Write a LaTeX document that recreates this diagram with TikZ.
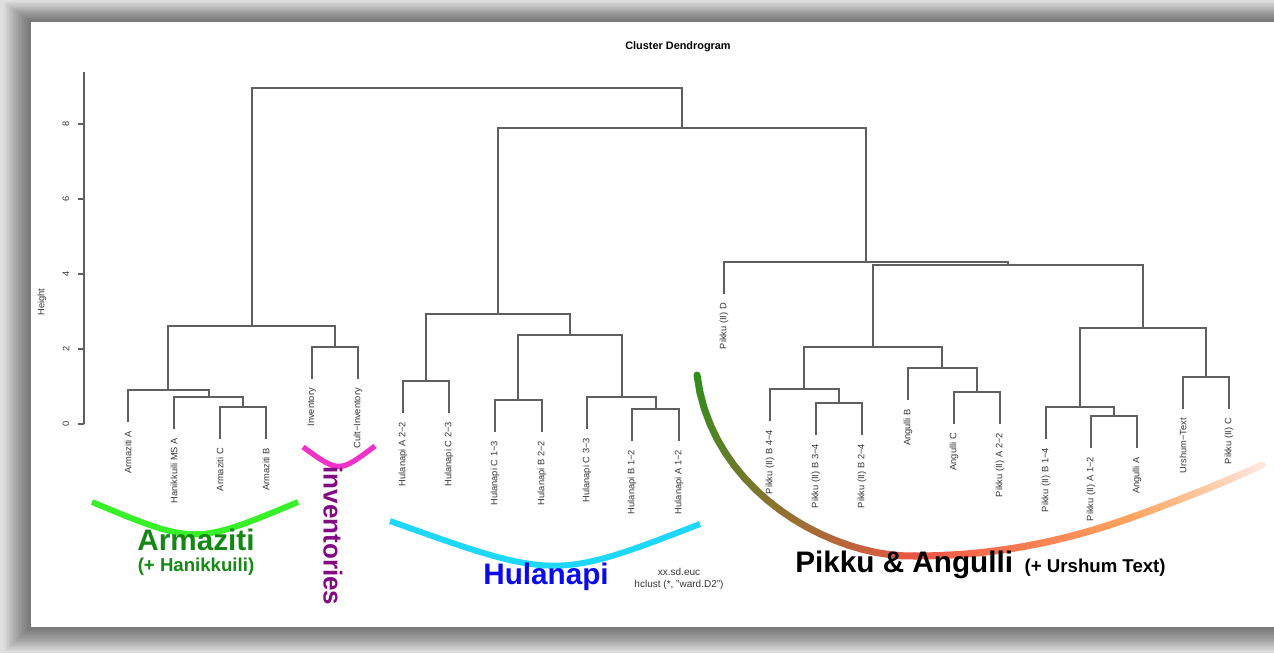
\documentclass[tikz,border=0pt]{standalone}
\usepackage{fontspec}
\setmainfont{Liberation Sans}
\usepackage{tikz}
\usetikzlibrary{positioning}
\definecolor{bggray}{RGB}{222,222,222}
\definecolor{linkgray}{RGB}{95,95,95}
\definecolor{labelgray}{RGB}{55,55,55}
\definecolor{armline}{RGB}{55,240,40}
\definecolor{armtext}{RGB}{20,135,20}
\definecolor{invline}{RGB}{240,50,200}
\definecolor{invtext}{RGB}{130,10,130}
\definecolor{hulline}{RGB}{30,215,250}
\definecolor{hultext}{RGB}{10,10,240}
\definecolor{pkgreen}{RGB}{50,140,30}
\definecolor{pkred}{RGB}{240,85,70}
\definecolor{pkorange}{RGB}{255,165,95}
\definecolor{pkpale}{RGB}{255,232,225}

\begin{document}
\begin{tikzpicture}[x=0.02cm, y=-0.02cm,
    link/.style = {draw=linkgray, line width=0.75pt},
    leaf/.style = {rotate=90, anchor=east, inner sep=0pt, text=labelgray, font=\fontsize{5.3}{6}\selectfont},
    ticklab/.style = {rotate=90, inner sep=0pt, text=labelgray, font=\fontsize{5.3}{6}\selectfont},
    grouplab/.style = {inner sep=0pt, font=\bfseries\fontsize{16.9}{20}\selectfont},
    sublab/.style = {inner sep=0pt, font=\bfseries\fontsize{10.6}{12}\selectfont},
    bracket/.style = {line width=3.4pt},
    pkarc/.style = {line width=4pt, line cap=round}]
    \useasboundingbox (0,0) rectangle (1274,653);
    \clip (0,0) rectangle (1274,653);
    \fill[bggray] (0,0) rectangle (1274,653);
    \foreach \k in {1,...,18}
        \fill[black, opacity=0.032] (31-1.5*\k,22-1.1*\k) rectangle (1300,627+1.35*\k);
    \fill[white] (31,22) rectangle (1300,627);

    \node[inner sep=0pt, font=\bfseries\fontsize{6.2}{7}\selectfont] (title) at (678,47) {Cluster Dendrogram};

    \draw[link] (84,72) -- (84,424);
    \draw[link] (78,424) -- (84,424);
    \draw[link] (78,349) -- (84,349);
    \draw[link] (78,274) -- (84,274);
    \draw[link] (78,199) -- (84,199);
    \draw[link] (78,124) -- (84,124);
    \node[ticklab] (h0) at (66,424) {0};
    \node[ticklab] (h2) at (66,349) {2};
    \node[ticklab] (h4) at (66,274) {4};
    \node[ticklab] (h6) at (66,199) {6};
    \node[ticklab] (h8) at (66,124) {8};
    \node[ticklab] (height) at (42,302) {Height};

    \coordinate (t1) at (128,422);
    \coordinate (t2) at (174,429);
    \coordinate (t3) at (220,439);
    \coordinate (t4) at (266,439);
    \coordinate (t5) at (312,379);
    \coordinate (t6) at (358,379);
    \coordinate (t7) at (403,413);
    \coordinate (t8) at (449,413);
    \coordinate (t9) at (495,432);
    \coordinate (t10) at (542,432);
    \coordinate (t11) at (587,429);
    \coordinate (t12) at (632,441);
    \coordinate (t13) at (679,441);
    \coordinate (t14) at (724,294);
    \coordinate (t15) at (770,421);
    \coordinate (t16) at (816,435);
    \coordinate (t17) at (862,435);
    \coordinate (t18) at (908,400);
    \coordinate (t19) at (954,424);
    \coordinate (t20) at (1000,424);
    \coordinate (t21) at (1046,439);
    \coordinate (t22) at (1091,448);
    \coordinate (t23) at (1137,448);
    \coordinate (t24) at (1183,409);
    \coordinate (t25) at (1229,409);

    \node[below=5pt of t1, leaf] (l1) {Armaziti A};
    \node[below=5pt of t2, leaf] (l2) {Hanikkuili MS A};
    \node[below=5pt of t3, leaf] (l3) {Armaziti C};
    \node[below=5pt of t4, leaf] (l4) {Armaziti B};
    \node[below=5pt of t5, leaf] (l5) {Inventory};
    \node[below=5pt of t6, leaf] (l6) {Cult−Inventory};
    \node[below=5pt of t7, leaf] (l7) {Hulanapi A 2−2};
    \node[below=5pt of t8, leaf] (l8) {Hulanapi C 2−3};
    \node[below=5pt of t9, leaf] (l9) {Hulanapi C 1−3};
    \node[below=5pt of t10, leaf] (l10) {Hulanapi B 2−2};
    \node[below=5pt of t11, leaf] (l11) {Hulanapi C 3−3};
    \node[below=5pt of t12, leaf] (l12) {Hulanapi B 1−2};
    \node[below=5pt of t13, leaf] (l13) {Hulanapi A 1−2};
    \node[below=5pt of t14, leaf] (l14) {Pikku (II) D};
    \node[below=5pt of t15, leaf] (l15) {Pikku (II) B 4−4};
    \node[below=5pt of t16, leaf] (l16) {Pikku (II) B 3−4};
    \node[below=5pt of t17, leaf] (l17) {Pikku (II) B 2−4};
    \node[below=5pt of t18, leaf] (l18) {Angulli B};
    \node[below=5pt of t19, leaf] (l19) {Angulli C};
    \node[below=5pt of t20, leaf] (l20) {Pikku (II) A 2−2};
    \node[below=5pt of t21, leaf] (l21) {Pikku (II) B 1−4};
    \node[below=5pt of t22, leaf] (l22) {Pikku (II) A 1−2};
    \node[below=5pt of t23, leaf] (l23) {Angulli A};
    \node[below=5pt of t24, leaf] (l24) {Urshum−Text};
    \node[below=5pt of t25, leaf] (l25) {Pikku (II) C};

    \coordinate (mArmCB) at (243,407);
    \coordinate (mArmH) at (209,397);
    \coordinate (mArm) at (168,390);
    \coordinate (mInv) at (335,347);
    \coordinate (mLeft) at (252,326);
    \coordinate (mHulA) at (426,381);
    \coordinate (mHulC) at (518,400);
    \coordinate (mHulBA) at (656,409);
    \coordinate (mHulC3) at (622,397);
    \coordinate (mHulR) at (570,335);
    \coordinate (mHul) at (498,314);
    \coordinate (mPkB34) at (839,403);
    \coordinate (mPkB4) at (804,389);
    \coordinate (mAngC) at (977,392);
    \coordinate (mAngB) at (942,368);
    \coordinate (mPkL) at (873,347);
    \coordinate (mPkA) at (1114,416);
    \coordinate (mPkB1) at (1080,407);
    \coordinate (mUrs) at (1206,377);
    \coordinate (mPkR) at (1143,328);
    \coordinate (mPkLR) at (1008,265);
    \coordinate (mPk) at (866,262);
    \coordinate (mRight) at (682,128);
    \coordinate (mRoot) at (467,88);

    \draw[link] (t3) |- (mArmCB) -| (t4);
    \draw[link] (t2) |- (mArmH) -| (mArmCB);
    \draw[link] (t1) |- (mArm) -| (mArmH);
    \draw[link] (t5) |- (mInv) -| (t6);
    \draw[link] (mArm) |- (mLeft) -| (mInv);
    \draw[link] (t7) |- (mHulA) -| (t8);
    \draw[link] (t9) |- (mHulC) -| (t10);
    \draw[link] (t12) |- (mHulBA) -| (t13);
    \draw[link] (t11) |- (mHulC3) -| (mHulBA);
    \draw[link] (mHulC) |- (mHulR) -| (mHulC3);
    \draw[link] (mHulA) |- (mHul) -| (mHulR);
    \draw[link] (t16) |- (mPkB34) -| (t17);
    \draw[link] (t15) |- (mPkB4) -| (mPkB34);
    \draw[link] (t19) |- (mAngC) -| (t20);
    \draw[link] (t18) |- (mAngB) -| (mAngC);
    \draw[link] (mPkB4) |- (mPkL) -| (mAngB);
    \draw[link] (t22) |- (mPkA) -| (t23);
    \draw[link] (t21) |- (mPkB1) -| (mPkA);
    \draw[link] (t24) |- (mUrs) -| (t25);
    \draw[link] (mPkB1) |- (mPkR) -| (mUrs);
    \draw[link] (mPkL) |- (mPkLR) -| (mPkR);
    \draw[link] (t14) |- (mPk) -| (mPkLR);
    \draw[link] (mHul) |- (mRight) -| (mPk);
    \draw[link] (mLeft) |- (mRoot) -| (mRight);

    \draw[bracket, draw=armline] (92,502) .. controls (195,545) .. (298,502);
    \node[grouplab, text=armtext] (armaziti) at (196,540) {Armaziti};
    \node[sublab, text=armtext] (armsub) at (196,567) {(+ Hanikkuili)};

    \draw[bracket, line width=3pt, draw=invline] (303,447) .. controls (339,473) .. (375,446);
    \node[rotate=-90, inner sep=0pt, text=invtext, font=\bfseries\fontsize{14.8}{18}\selectfont] (inventories) at (333,536) {inventories};

    \draw[bracket, draw=hulline] (390,521) .. controls (555,580) .. (700,524);
    \node[grouplab, text=hultext] (hulanapi) at (546,577) {Hulanapi};
    \node[align=center, inner sep=0pt, text=labelgray, font=\fontsize{5.7}{6.8}\selectfont] (method) at (679,579) {xx.sd.euc\\hclust (*, "ward.D2")};

    \foreach \i in {0,...,19} {
        \pgfmathsetmacro\ta{\i/20}
        \pgfmathsetmacro\tb{(\i+1)/20}
        \pgfmathtruncatemacro\mix{100-5*\i}
        \path (697,375) .. controls (711,492) and (832,558) .. (915,556)
            coordinate[pos=\ta] (ga) coordinate[pos=\tb] (gb);
        \draw[pkarc, draw=pkgreen!\mix!pkred] (ga) -- (gb);
        \path (915,556) .. controls (990,556) and (1060,543) .. (1130,518)
            coordinate[pos=\ta] (ga) coordinate[pos=\tb] (gb);
        \draw[pkarc, draw=pkred!\mix!pkorange] (ga) -- (gb);
        \path (1130,518) .. controls (1180,500) and (1225,482) .. (1262,465)
            coordinate[pos=\ta] (ga) coordinate[pos=\tb] (gb);
        \draw[pkarc, draw=pkorange!\mix!pkpale] (ga) -- (gb);
    }
    \node[grouplab, anchor=base west] (pikku) at (795,572) {Pikku \& Angulli};
    \node[sublab, anchor=base west] (pikkusub) at ([xshift=6.2pt]pikku.base east) {(+ Urshum Text)};
\end{tikzpicture}
\end{document}
